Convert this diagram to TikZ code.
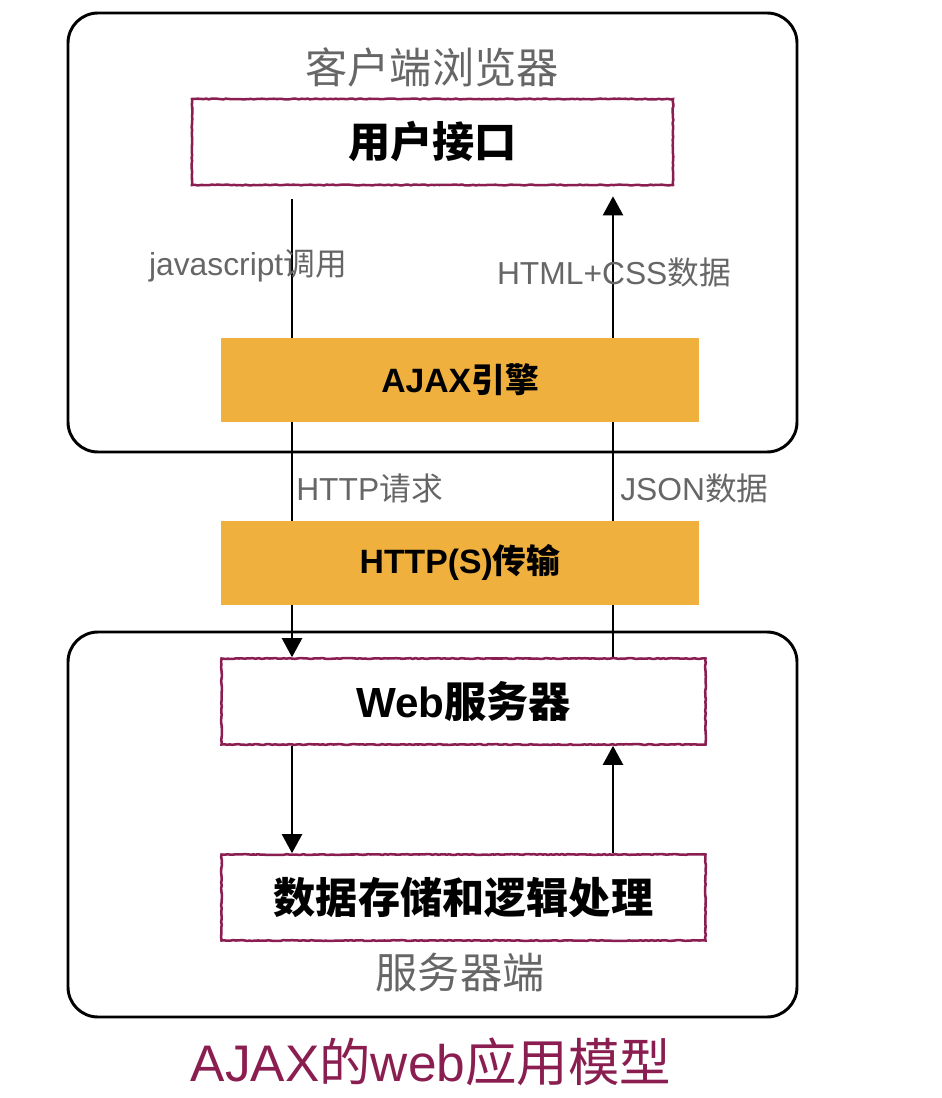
\documentclass[tikz,border=0pt]{standalone}
\usepackage{fontspec}
\setmainfont{Liberation Sans}
\newfontfamily\cjk{Noto Sans CJK SC}
\usetikzlibrary{positioning,arrows.meta,decorations.pathmorphing}
\definecolor{ajaxpurple}{HTML}{8B1E50}
\definecolor{ajaxorange}{HTML}{F0B03E}
\definecolor{labelgray}{HTML}{666666}
\pgfdeclarelayer{background}
\pgfsetlayers{background,main}

\begin{document}
\begin{tikzpicture}
  [x=0.25mm,y=-0.25mm,
   rough/.style={decorate,decoration={random steps,segment length=2pt,amplitude=0.3pt}},
   sidebox/.style={draw=black,line width=2.1pt,rounded corners=7.5mm},
   layerbox/.style={draw=ajaxpurple,line width=1.8pt,fill=white,rough,
     minimum width=121mm,minimum height=21.5mm,font=\fontsize{30}{34}\bfseries\selectfont},
   enginebox/.style={fill=ajaxorange,minimum width=119.5mm,minimum height=21mm,
     font=\fontsize{24}{28}\bfseries\selectfont},
   sidelabel/.style={text=labelgray,font=\fontsize{30}{34}\selectfont},
   flowlabel/.style={text=labelgray,font=\fontsize{22.6}{26}\selectfont,inner sep=0pt},
   flow/.style={line width=2pt,-{Triangle[width=5mm,length=4.8mm]}}]

  \useasboundingbox (0,0) rectangle (942,1098);

  % two columns of the flow
  \coordinate (colL) at (292,0);
  \coordinate (colR) at (613,0);

  % client side
  \node[sidelabel] (client) at (432,67) {\cjk 客户端浏览器};
  \node[layerbox,minimum width=120.25mm] (ui) at (432.5,142) {\cjk 用户接口};
  \node[enginebox] (engine) at (460,380) {AJAX{\cjk 引擎}};

  % transport
  \node[enginebox] (https) at (460,562.5) {HTTP(S){\cjk 传输}};

  % server side
  \node[layerbox] (web) at (463.5,701.5) {Web{\cjk 服务器}};
  \node[layerbox] (data) at (463.5,897.5) {\cjk 数据存储和逻辑处理};
  \node[sidelabel] (server) at (460,972) {\cjk 服务器端};

  \node[flowlabel] (jscall) at (248,266) {javascript{\cjk 调用}};
  \node[flowlabel] (htmlcss) at (614,272) {HTML+CSS{\cjk 数据}};
  \node[flowlabel,anchor=west] (httpreq) at (296,488) {HTTP{\cjk 请求}};
  \node[flowlabel,anchor=west] (json) at (620,488) {JSON{\cjk 数据}};

  \node[text=ajaxpurple,font=\fontsize{36.6}{42}\selectfont] (title) at (431,1062) {AJAX{\cjk 的}web{\cjk 应用模型}};

  \begin{pgfonlayer}{background}
    \draw[sidebox] (68,13) rectangle (797,452);
    \draw[sidebox] (68,632) rectangle (797,1017);

    \draw[flow,shorten <=3.25mm] (ui.south -| colL) -- (web.north -| colL);
    \draw[flow,shorten >=2.5mm] (web.north -| colR) -- (ui.south -| colR);
    \draw[flow] (web.south -| colL) -- (data.north -| colL);
    \draw[flow] (data.north -| colR) -- (web.south -| colR);
  \end{pgfonlayer}
\end{tikzpicture}
\end{document}
